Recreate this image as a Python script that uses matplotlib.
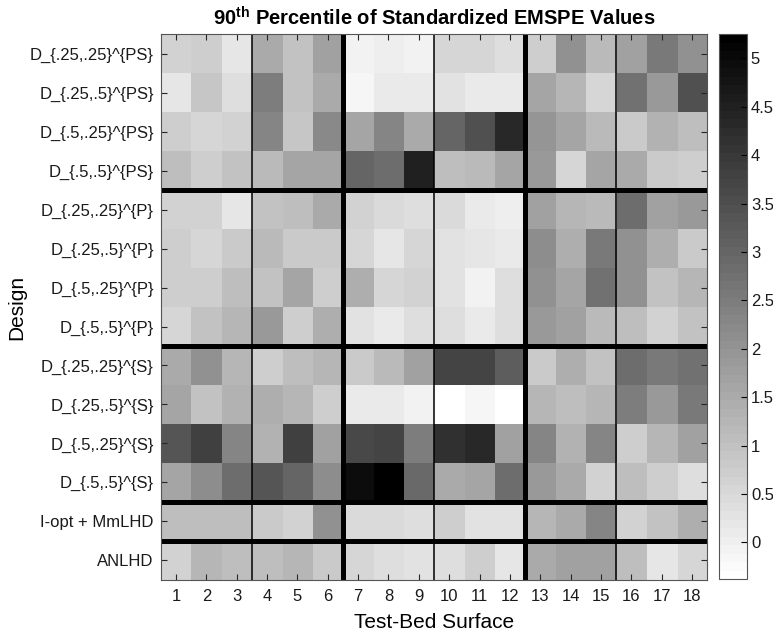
import numpy as np
import matplotlib
matplotlib.use("Agg")
import matplotlib.pyplot as plt

plt.rcParams['font.family'] = ['Liberation Sans', 'DejaVu Sans']
plt.rcParams['mathtext.fontset'] = 'custom'
plt.rcParams['mathtext.rm'] = 'Liberation Sans'
plt.rcParams['mathtext.bf'] = 'Liberation Sans:bold'

designs = ["D_{.25,.25}^{PS}", "D_{.25,.5}^{PS}", "D_{.5,.25}^{PS}", "D_{.5,.5}^{PS}",
           "D_{.25,.25}^{P}", "D_{.25,.5}^{P}", "D_{.5,.25}^{P}", "D_{.5,.5}^{P}",
           "D_{.25,.25}^{S}", "D_{.25,.5}^{S}", "D_{.5,.25}^{S}", "D_{.5,.5}^{S}",
           "I-opt + MmLHD", "ANLHD"]
surfaces = list(range(1, 19))

# 90th percentile of standardized EMSPE, one row per design, one column per surface
emspe90 = np.array([
    [0.61, 0.72, 0.22, 1.50, 0.94, 1.72, -0.09, 0.02, -0.05, 0.50, 0.50, 0.39, 0.72, 2.05, 1.17, 1.72, 2.60, 2.05],
    [0.22, 0.88, 0.35, 2.49, 0.94, 1.50, -0.16, 0.06, 0.06, 0.28, 0.06, 0.06, 1.61, 1.28, 0.57, 2.71, 1.83, 3.48],
    [0.72, 0.50, 0.66, 2.27, 0.88, 2.20, 1.61, 2.27, 1.54, 3.04, 3.48, 4.37, 1.94, 1.61, 1.17, 0.83, 1.32, 1.05],
    [1.05, 0.72, 0.94, 1.17, 1.61, 1.61, 3.04, 2.82, 4.48, 1.05, 1.17, 1.61, 1.83, 0.50, 1.61, 1.50, 0.83, 0.72],
    [0.66, 0.66, 0.22, 0.94, 1.10, 1.50, 0.61, 0.44, 0.35, 0.44, 0.06, 0.00, 1.72, 1.28, 1.17, 2.82, 1.72, 1.83],
    [0.72, 0.57, 0.83, 1.17, 0.83, 0.83, 0.50, 0.22, 0.50, 0.28, 0.22, 0.13, 2.16, 1.39, 2.60, 2.05, 1.39, 0.83],
    [0.72, 0.72, 1.05, 0.94, 1.61, 0.72, 1.45, 0.50, 0.61, 0.28, -0.05, 0.39, 2.05, 1.61, 2.71, 2.05, 0.94, 1.28],
    [0.57, 0.94, 1.23, 1.83, 0.72, 1.39, 0.28, 0.13, 0.39, 0.39, 0.13, 0.35, 1.83, 1.72, 1.17, 1.05, 0.61, 0.94],
    [1.50, 2.05, 1.28, 0.72, 1.05, 1.23, 0.83, 1.17, 1.67, 3.70, 3.70, 3.15, 0.83, 1.39, 0.94, 2.82, 2.60, 2.71],
    [1.61, 0.94, 1.32, 1.39, 1.28, 0.72, 0.06, 0.06, -0.05, -0.38, -0.16, -0.38, 1.28, 1.05, 1.28, 2.49, 1.83, 2.60],
    [3.37, 3.81, 2.27, 1.32, 3.81, 1.67, 3.59, 3.70, 2.49, 4.15, 4.32, 1.72, 2.27, 1.32, 2.27, 0.72, 1.28, 1.72],
    [1.61, 2.16, 2.82, 3.37, 3.04, 2.16, 4.92, 5.25, 2.93, 1.50, 1.61, 2.82, 1.83, 1.50, 0.61, 1.05, 0.72, 0.39],
    [1.05, 1.05, 1.05, 0.83, 0.61, 2.05, 0.44, 0.44, 0.35, 0.72, 0.28, 0.28, 1.28, 1.50, 2.27, 0.61, 0.94, 1.39],
    [0.61, 1.28, 1.05, 1.05, 1.28, 0.83, 0.50, 0.35, 0.28, 0.39, 0.72, 0.22, 1.50, 1.72, 1.72, 1.05, 0.22, 0.50],
])
cbar_ticks = [0, 0.5, 1, 1.5, 2, 2.5, 3, 3.5, 4, 4.5, 5]

thick_cols = [6.5, 12.5]
thin_cols = [3.5, 9.5, 15.5]
thick_rows = [4.5, 8.5, 12.5, 13.5]

fig = plt.figure(figsize=(7.73, 6.35), dpi=100)
ax = fig.add_axes([0.208, 0.087, 0.707, 0.859])
cax = fig.add_axes([0.930, 0.088, 0.036, 0.858])

cmap = plt.get_cmap('gray_r', 64)
im = ax.imshow(emspe90, cmap=cmap, vmin=emspe90.min(), vmax=emspe90.max(),
               aspect='auto', interpolation='nearest',
               extent=(0.5, 18.5, 14.5, 0.5))

for x in thick_cols:
    ax.axvline(x, color='black', lw=3.6)
for x in thin_cols:
    ax.axvline(x, color='black', lw=1.1)
for y in thick_rows:
    ax.axhline(y, color='black', lw=3.6)

ax.set_xticks(surfaces)
ax.set_xticklabels([str(s) for s in surfaces])
ax.set_yticks(np.arange(1, len(designs) + 1))
ax.set_yticklabels(designs)
ax.tick_params(direction='in', top=True, right=True, length=4, labelsize=12,
               colors='#262626', labelcolor='#1a1a1a', pad=5)
ax.tick_params(axis='x', pad=7)
for sp in ax.spines.values():
    sp.set_color('#555555')
    sp.set_linewidth(0.8)

ax.set_xlabel('Test-Bed Surface', fontsize=15, labelpad=6)
ax.set_ylabel('Design', fontsize=15, labelpad=3)
ax.set_title('90$^{\\mathbf{th}}$ Percentile of Standardized EMSPE Values',
             fontsize=14.5, fontweight='bold', pad=6)

cb = fig.colorbar(im, cax=cax, ticks=cbar_ticks)
cb.ax.set_yticklabels([f'{t:g}' for t in cbar_ticks])
cb.ax.tick_params(direction='in', length=4, labelsize=12, pad=3,
                  labelcolor='#1a1a1a')
cb.outline.set_edgecolor('#555555')
cb.outline.set_linewidth(0.8)

fig.savefig('out.png', dpi=100)
